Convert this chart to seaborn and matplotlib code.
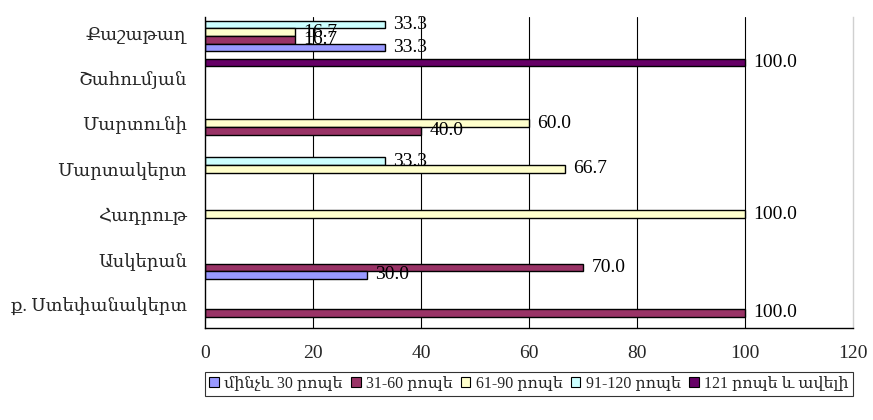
import matplotlib
matplotlib.use('Agg')
import matplotlib.pyplot as plt
import seaborn as sns
import pandas as pd
from matplotlib.patches import Patch

categories = ['Քաշաթաղ', 'Շահումյան', 'Մարտունի', 'Մարտակերտ', 'Հադրութ', 'Ասկերան', 'ք. Ստեփանակերտ']
series = ['մինչև 30 րոպե', '31-60 րոպե', '61-90 րոպե', '91-120 րոպե', '121 րոպե և ավելի']
colors = ['#9999FF', '#993366', '#FFFFCC', '#CCFFFF', '#660066']

v_upto30 = [33.3, None, None, None, None, 30.0, None]
v_31_60 = [16.7, None, 40.0, None, None, 70.0, 100.0]
v_61_90 = [16.7, None, 60.0, 66.7, 100.0, None, None]
v_91_120 = [33.3, None, None, 33.3, None, None, None]
v_121plus = [None, 100.0, None, None, None, None, None]

x_ticks = [0, 20, 40, 60, 80, 100, 120]

sns.set_style('white')
plt.rcParams['font.family'] = ['Liberation Serif', 'DejaVu Serif', 'DejaVu Sans']

rows = []
for s, vals in zip(series, [v_upto30, v_31_60, v_61_90, v_91_120, v_121plus]):
    for c, v in zip(categories, vals):
        if v is not None:
            rows.append({'category': c, 'series': s, 'value': v})
df = pd.DataFrame(rows)

fig = plt.figure(figsize=(8.73, 4.2), dpi=100)
ax = fig.add_axes([205 / 873, 1 - 328 / 420, 648 / 873, 311 / 420])

sns.barplot(data=df, x='value', y='category', hue='series', order=categories,
            hue_order=series[::-1], palette=dict(zip(series, colors)), orient='h',
            width=0.825, edgecolor='black', linewidth=1.0, saturation=1,
            legend=False, ax=ax, errorbar=None)

for cont in ax.containers:
    ax.bar_label(cont, fmt='%.1f', padding=6, fontsize=14, color='black')

ax.set_xlim(0, 120)
ax.set_ylim(6.5, -0.335)
ax.set_xticks(x_ticks)
ax.set_xticklabels([str(t) for t in x_ticks], fontsize=14)
ax.tick_params(axis='x', direction='out', length=5, width=0.8, color='black', pad=7)
for t in x_ticks[1:-1]:
    ax.axvline(t, color='black', lw=0.8, zorder=0)

ax.set_yticks(range(len(categories)))
ax.set_yticklabels(categories, fontsize=13)
ax.tick_params(axis='y', which='major', length=0, pad=13)
ax.set_yticks([-0.335] + [i + 0.5 for i in range(len(categories))], minor=True)
ax.tick_params(axis='y', which='minor', direction='out', length=5, width=0.8, color='black')

ax.set_xlabel('')
ax.set_ylabel('')
for side in ['left', 'bottom']:
    ax.spines[side].set_color('black')
    ax.spines[side].set_linewidth(1)
ax.spines['top'].set_visible(False)
ax.spines['right'].set_color('#d0d0d0')
ax.spines['right'].set_linewidth(1)

handles = [Patch(facecolor=c, edgecolor='black', linewidth=0.8) for c in colors]
leg = fig.legend(handles, series, loc='center', bbox_to_anchor=(529 / 873, 1 - 384 / 420),
                 ncol=5, fontsize=11.5, frameon=True, fancybox=False, edgecolor='black',
                 handlelength=0.6, handleheight=0.6, handletextpad=0.35, columnspacing=0.5,
                 borderpad=0.25, borderaxespad=0)
leg.get_frame().set_linewidth(0.8)

fig.savefig('out.png', dpi=100, facecolor='white')
